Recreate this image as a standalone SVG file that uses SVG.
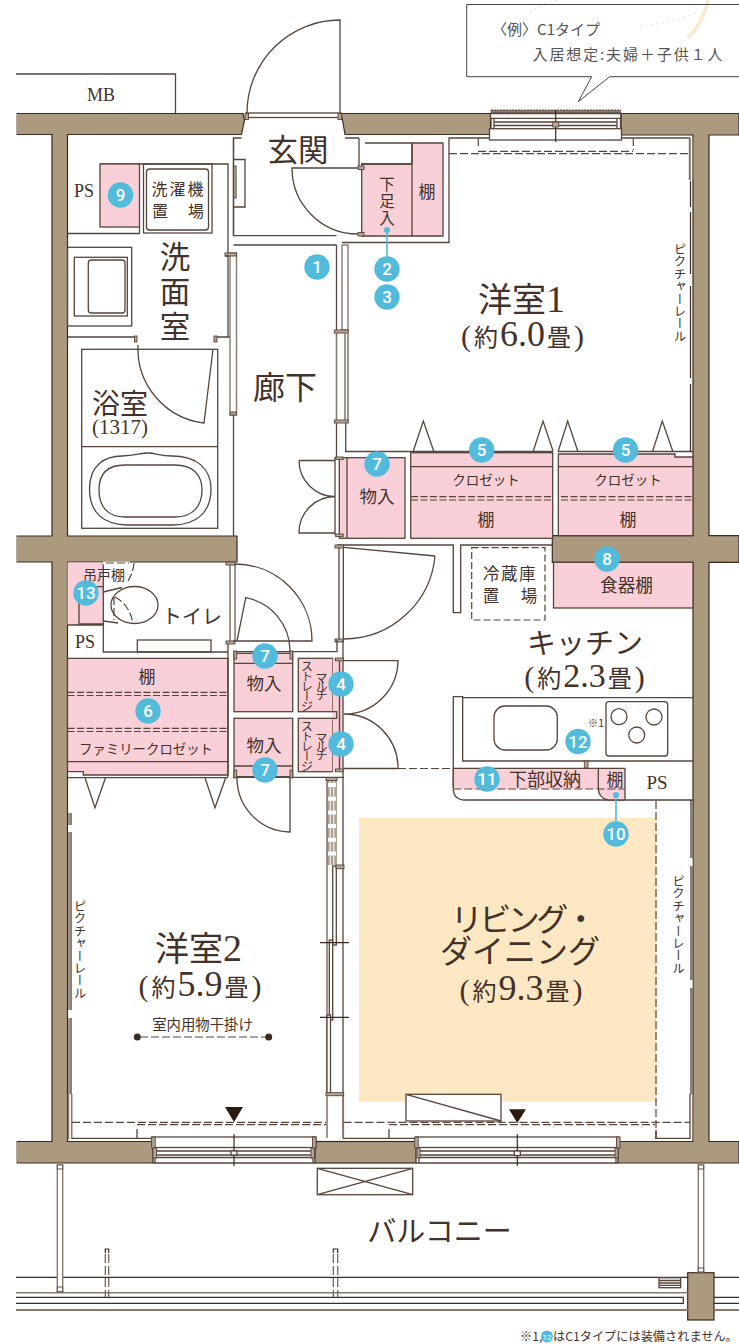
<svg xmlns="http://www.w3.org/2000/svg" width="739" height="1344" viewBox="0 0 739 1344">
<style>
.w{fill:#ab9a7e;stroke:#3b2a20;stroke-width:1.2}
.l{fill:none;stroke:#57443a;stroke-width:1.3}
.lw{fill:#fff;stroke:#57443a;stroke-width:1.3}
.t{fill:none;stroke:#3b2a20;stroke-width:1.2}
.g{fill:none;stroke:#8a7a6e;stroke-width:1.6}
.gf{fill:#b5a899;stroke:#57443a;stroke-width:.9}
.p{fill:#f9cfd8;stroke:#57443a;stroke-width:1.3}
.pn{fill:#f9cfd8;stroke:none}
.d{fill:none;stroke:#57443a;stroke-width:1.2;stroke-dasharray:8 3}
.d2{fill:none;stroke:#57443a;stroke-width:1.2;stroke-dasharray:7 2.5}
.wd{fill:none;stroke:#fff;stroke-width:2.5;stroke-dasharray:4 8}
text{font-family:"Noto Sans CJK JP","Liberation Serif",sans-serif;fill:#43322a;text-anchor:middle}
.s{font-family:"Liberation Serif","Noto Sans CJK JP",serif}
.v{writing-mode:vertical-rl;text-anchor:start}
.b circle{fill:#52bbdb}
.b text{font-family:"Roboto","Liberation Sans",sans-serif;font-size:17px;font-weight:500;fill:#fff}
.c{stroke:#52bbdb;stroke-width:1.6;fill:none}
.cd{fill:#52bbdb}
</style>
<rect width="739" height="1344" fill="#fff"/>
<g id="callout">
<path d="M708 0Q704 22 688 38" fill="none" stroke="#f6ead0" stroke-width="4"/>
<path d="M530 12Q545 2 560 0M640 26Q665 24 698 12" fill="none" stroke="#e3e3de" stroke-width="1.6" stroke-dasharray="1.5 4"/>
<path d="M739 4.5H466.7V76.7H591.7L578.3 101.7L609.7 76.7H739" fill="none" stroke="#444" stroke-width="1"/>
<text x="546" y="35" font-size="15" textLength="108" style="fill:#555">〈例〉C1タイプ</text>
<text x="627.5" y="60" font-size="15" textLength="190" style="fill:#555">入居想定:夫婦＋子供１人</text>
</g>
<g id="ldk-floor"><rect x="359" y="817.7" width="297.5" height="284" fill="#fee8c3"/></g>
<g id="walls">
<path class="w" d="M16 113.5H243L244.5 120L241.5 134.5H67.5V536H237V562H67.5V1141.5H153V1163H16V1141.5H52V562H16V536H52V134.5H16Z"/>
<path class="w" d="M341 113.5H490.5V134.5H345L342.5 120Z"/>
<path class="w" d="M621 113.5H739V135H709V535.7H739V562.3H709V1141.5H739V1163H618V1141.5H693V562.3H552.3V535.7H693V135H621Z"/>
<rect class="w" x="315" y="1141.5" width="101" height="21.5"/>
<rect class="w" x="687.7" y="1272.7" width="26.3" height="47.3"/>
<rect x="0" y="110" width="16.5" height="1060" fill="#fff"/>
</g>
<g id="mb"><path class="l" d="M16 74H175.5V113"/><text class="s" x="101" y="101" font-size="18">MB</text></g>
<g id="entrance">
<path class="l" d="M247 113A93 93 0 0 1 340 20V113"/>
<rect class="lw" x="246" y="113" width="95" height="4.5"/>
<rect class="gf" x="245" y="113.5" width="3.5" height="6"/><rect class="gf" x="338" y="113.5" width="3.5" height="6"/>
<path class="l" d="M241.5 138H233.5V236M345 138H359"/>
<path class="l" d="M233.5 159.5H245V207H233.5"/>
<rect class="gf" x="233.5" y="166" width="2.6" height="32"/>
<path class="l" d="M233.5 235.7H336.5M233.5 245H336.5"/>
<path class="l" d="M359 138V168M358 168H292A66 66 0 0 0 358 234"/>
<text x="298" y="161" font-size="30.5">玄関</text>
</g>
<g id="shoe-storage">
<path class="p" d="M365 143H412V164H361.7V236H443V143H412"/>
<path class="l" d="M412 143V236M361.7 164H412"/>
<rect class="gf" x="358" y="166" width="6" height="3.5"/><rect class="gf" x="358" y="232.5" width="6" height="3.5"/>
<path class="l" d="M342 242.5H449V138H490M621 138H689.5V180"/>
<text class="v" x="387" y="176" font-size="15.5" letter-spacing="1.5">下足入</text>
<text x="427" y="198" font-size="17">棚</text>
</g>
<g id="window-top">
<rect x="491" y="110" width="129.7" height="3" fill="#8a7a6e" stroke="#3b2a20" stroke-width=".8" stroke-dasharray="2 1"/>
<path class="lw" d="M490.5 113.5H620.7V118.3H490.5Z"/>
<path class="l" d="M491 118.3V128.7M494 118.3V128.7M617 118.3V128.7M620.5 118.3V128.7M494 122H617M494 125.5H617"/>
<rect class="lw" x="489.5" y="128.7" width="132" height="11.3"/>
<path class="t" d="M555.7 110V142"/><rect class="gf" x="552.7" y="122" width="6" height="5"/>
<path class="d" d="M478.3 138V148M633.3 138V150M478 151.3H633M449 153.7H690"/>
</g>
<g id="western-room-1">
<path class="g" d="M690 138V180M693 138V180"/>
<path class="t" d="M690.5 181V451" stroke-width="1.3"/>
<path d="M690.5 207V212M690.5 274V286M690.5 378V384" stroke="#fff" stroke-width="2.5"/>
<text class="v" x="680" y="243" font-size="12.4">ピクチャーレール</text>
<text x="478" y="312" font-size="34" style="text-anchor:start">洋室<tspan class="s" font-size="38">1</tspan></text>
<text x="522.5" y="346" font-size="24"><tspan class="s" font-size="30">(</tspan><tspan dx="3">約</tspan><tspan class="s" dx="2" font-size="36">6.0</tspan><tspan dx="2">畳</tspan><tspan class="s" dx="3" font-size="30">)</tspan></text>
</g>
<g id="laundry">
<path class="l" d="M100 164H228V253M233.5 138V236"/>
<rect class="p" x="100" y="164" width="39.5" height="63"/>
<path class="l" d="M67.5 233.5H139.5V227"/>
<rect class="l" x="143.5" y="164" width="68.5" height="69"/>
<rect class="l" x="146.5" y="169" width="62" height="61" rx="3"/>
<text class="s" x="84" y="196.5" font-size="18">PS</text>
<text x="178.5" y="195" font-size="16" letter-spacing="2">洗濯機</text>
<text x="160" y="217" font-size="16">置</text><text x="196" y="217" font-size="16">場</text>
</g>
<g id="washroom">
<rect class="l" x="67.5" y="247.3" width="64.2" height="78.7"/>
<rect class="l" x="74.3" y="257.3" width="53" height="58.7"/>
<rect class="l" x="88.3" y="260" width="36.7" height="53" rx="3"/>
<path class="l" d="M67.5 337H136.7M215 337H230"/>
<rect class="gf" x="134.5" y="336" width="2.5" height="6"/><rect class="gf" x="214" y="336" width="3" height="6"/>
<text class="v" x="175" y="241" font-size="30.5" letter-spacing="4.5">洗面室</text>
</g>
<g id="slide-door-wash">
<rect x="230" y="253" width="6.5" height="162" fill="#fff" stroke="#8a7a6e" stroke-width="1.4"/>
<path class="wd" d="M233.2 256V412"/>
<rect class="gf" x="225" y="253" width="11.5" height="3"/><rect class="gf" x="230" y="412" width="6.5" height="3"/>
<path class="l" d="M225 256H228V337"/>
</g>
<g id="bathroom">
<rect class="l" x="81.7" y="349.3" width="136" height="179"/>
<path class="l" d="M81.7 446.7H217.7M233.5 415V536"/>
<path class="l" d="M213 349L204 423A75 75 0 0 1 138 345"/>
<path class="l" d="M89.5 489C89.5 465 105 456 122 456C135 456 140 453 148 453C156 453 160 456 172 456C196 456 211 468 211 489C211 512 197 525 172 525H128C103 525 89.5 512 89.5 489Z"/>
<path class="l" d="M99 490C99 473 108 465 125 465H175C192 465 202 474 202 490C202 507 192 517 175 517H125C108 517 99 507 99 490Z"/>
<text x="120" y="414" font-size="28">浴室<tspan class="s" x="120" y="434" font-size="21">(1317)</tspan></text>
</g>
<g id="corridor">
<text x="285" y="399" font-size="32">廊下</text>
<path class="l" d="M336.5 245V335M336.5 423V457"/>
<rect x="342" y="245" width="6" height="85" fill="#fff" stroke="#8a7a6e" stroke-width="1.4"/>
<path class="wd" d="M345 248V328"/>
<rect class="gf" x="334.3" y="330" width="14" height="3"/>
<path class="g" d="M336.5 333V422M345 333V422M348 333V422"/>
<rect class="gf" x="334.3" y="420" width="14" height="3"/>
<path class="l" d="M345.7 423V451.5H411"/>
</g>
<g id="storage-corridor">
<rect class="p" x="339.3" y="457.7" width="65.7" height="80.6"/>
<path class="l" d="M347 458V538"/>
<path class="l" d="M335 457V535M299 460.5H335M299 460.5A36 36 0 0 0 335 496.5A36 36 0 0 0 299 533H335"/>
<rect class="gf" x="335.7" y="457" width="7.5" height="2.6"/><rect class="gf" x="335.7" y="534" width="7.5" height="2.6"/>
<text x="377" y="503" font-size="17.5">物入</text>
</g>
<g id="closet-1">
<rect class="p" x="410.7" y="452.7" width="142" height="85.6"/>
<path class="l" d="M411 466.7H552.5M411 451.5H553"/>
<path class="d2" d="M411 496.7H552.5M411 500H552.5"/>
<path class="l" d="M413.3 451L423.3 421L433.7 451M533.3 451L543 421L553 451"/>
<text x="486" y="485" font-size="13.5">クロゼット</text>
<text x="486" y="526" font-size="17">棚</text>
</g>
<g id="closet-2">
<path class="p" d="M558.3 454H675V457H693V535.7H558.3Z"/>
<path class="l" d="M558 451.5H693M558 466.7H693"/>
<path class="d2" d="M561 496.7H693M561 500H693"/>
<path class="l" d="M558.3 451L567.7 421L577.7 451M652.7 451L662.3 421L672.7 451"/>
<text x="628" y="485" font-size="13.5">クロゼット</text>
<text x="628" y="526" font-size="17">棚</text>
</g>
<g id="kitchen">
<path class="l" d="M337 545H453.3V612.7H460.7V545H552.3"/>
<path class="l" d="M435 556L336 546.7M435 556A91.5 91.5 0 0 1 344 639"/>
<path class="l" d="M339 546V640M343.3 546V640"/>
<rect class="gf" x="335" y="545" width="8.5" height="3"/><rect class="gf" x="335" y="639" width="8.5" height="3"/>
<rect x="471.7" y="547.7" width="73.3" height="72.3" fill="none" stroke="#57443a" stroke-width="1.2" stroke-dasharray="7 3"/>
<text x="510" y="580" font-size="16.5" letter-spacing="1.5">冷蔵庫</text>
<text x="491" y="602" font-size="16.5">置</text><text x="529" y="602" font-size="16.5">場</text>
<rect class="p" x="553.5" y="562.3" width="139.5" height="45.7"/>
<text x="626.5" y="592" font-size="17.7">食器棚</text>
<text x="585" y="654" font-size="29">キッチン</text>
<text x="584.5" y="687" font-size="24"><tspan class="s" font-size="30">(</tspan><tspan dx="3">約</tspan><tspan class="s" dx="2" font-size="34">2.3</tspan><tspan dx="2">畳</tspan><tspan class="s" dx="3" font-size="30">)</tspan></text>
<path class="l" d="M693 697.7H462.7V761H693M462.7 697V696.7H453.3V788Q453.3 800 465 800H693"/>
<rect class="l" x="494" y="706" width="63.3" height="44" rx="11"/>
<rect class="l" x="606" y="701.7" width="61.7" height="54.3" rx="3"/>
<circle class="l" cx="619" cy="716.7" r="8"/><circle class="l" cx="654" cy="717" r="8"/><circle class="l" cx="636.7" cy="735" r="8"/>
<text x="596" y="727" font-size="10.5">※1</text>
<rect class="gf" x="584.3" y="761" width="3.7" height="7"/>
<path class="pn" d="M453.3 768.3H625V800H608Q598.3 798 598.3 789H453.3Z"/>
<path class="l" d="M453.3 768.3H625V800M598.3 768.3V788Q598.3 798 608 800H625M453.3 768.3V788"/>
<path class="d" d="M453.3 789H625"/>
<text x="545" y="786" font-size="18">下部収納</text>
<text x="615" y="786" font-size="17">棚</text>
<text class="s" x="657" y="789" font-size="19">PS</text>
</g>
<g id="toilet">
<rect class="pn" x="67.5" y="562.5" width="35.8" height="62.5"/>
<path class="l" d="M103.3 562.5V652H228M67.5 625H103.3M79 586.7H103.3V624H79Z"/>
<path d="M103 563H130M134 563Q133 573 128 581" fill="none" stroke="#fff" stroke-width="3"/>
<path class="d" d="M106 563H129M134 563Q133 573 128 581" stroke-dasharray="5 3"/>
<ellipse class="l" cx="134.5" cy="605" rx="23.5" ry="18.5" stroke-width="1.8"/>
<path class="l" d="M103.3 592L122 587.5M103.3 621L118 623"/>
<path class="d" d="M115 597Q130 605 133 624" stroke-dasharray="5 3"/>
<path class="d" d="M114 597V620" stroke-dasharray="5 3"/>
<rect class="l" x="137.3" y="640" width="73.7" height="12"/>
<text x="104" y="580" font-size="14">吊戸棚</text>
<text class="s" x="85" y="648" font-size="18">PS</text>
<text x="192" y="624" font-size="20">トイレ</text>
<path class="g" d="M230 564V641M235 564V641"/>
<rect class="gf" x="226" y="562" width="9" height="3"/><rect class="gf" x="226" y="641" width="9" height="3"/>
<path class="l" d="M235 564A77 77 0 0 1 312 641H233"/>
</g>
<g id="storage-mid">
<rect class="p" x="234" y="653.3" width="58.7" height="58.4"/>
<path class="l" d="M234 663.3H292.7M233 651.7H337V640"/>
<rect class="gf" x="234" y="651" width="2.7" height="8"/><rect class="gf" x="290" y="651" width="2.7" height="8"/>
<path class="l" d="M237 641L245.7 597.7A54 54 0 0 1 290 651"/>
<text x="264" y="690" font-size="17.5">物入</text>
<rect class="p" x="234" y="718.3" width="58.7" height="58.4"/>
<path class="l" d="M234 766H292.7M233 777.4H344"/>
<rect class="gf" x="234" y="770" width="2.7" height="8"/><rect class="gf" x="290" y="770" width="2.7" height="8"/>
<path class="l" d="M237 778A54 54 0 0 0 290 832V778"/>
<text x="264" y="752" font-size="17.5">物入</text>
</g>
<g id="family-closet">
<path class="p" d="M67.5 658.3H228V775H83.3V771.7H67.5Z"/>
<path class="l" d="M67.5 761.7H228M67.5 777.7H228M228 644V777"/>
<path class="d2" d="M67.5 692.3H228M67.5 695.5H228M67.5 728.3H228M67.5 731.5H228"/>
<path class="l" d="M85 777.7L95 807.7L105.5 777.7M205 777.7L215 807.7L225.7 777.7"/>
<text x="147" y="683" font-size="17">棚</text>
<text x="146" y="754" font-size="13.4">ファミリークロゼット</text>
</g>
<g id="multi-storage">
<rect class="p" x="298.3" y="658.3" width="34.4" height="53.4"/>
<rect class="p" x="298.3" y="718.3" width="34.4" height="53.4"/>
<rect class="pn" x="332.7" y="658.3" width="10.3" height="113.4"/>
<path class="l" d="M332.7 711.7H336.7V718.3H332.7M343 640V1138M339.5 658V772"/>
<text class="v" x="307" y="660" font-size="12" letter-spacing="-2">ストレージ</text><text class="v" x="321.5" y="672" font-size="12" letter-spacing="-3.5">マルチ</text>
<text class="v" x="307" y="720" font-size="12" letter-spacing="-2">ストレージ</text><text class="v" x="321.5" y="732" font-size="12" letter-spacing="-3.5">マルチ</text>
<rect class="gf" x="335.5" y="658" width="8" height="2.8"/><rect class="gf" x="335.5" y="769" width="8" height="2.8"/>
<path class="l" d="M344 660.7H398A54 54 0 0 1 344 714A54 54 0 0 1 398 768.5H344"/>
<path class="d" d="M398 768.5H453"/>
</g>
<g id="slide-door-ld">
<rect x="327" y="778" width="10" height="87" fill="#ada195"/>
<path d="M330.3 778V865M333.7 778V865" stroke="#f2eeea" stroke-width="1.2" fill="none"/>
<path d="M332 783V860" stroke="#fff" stroke-width="8" stroke-dasharray="4 9.7" fill="none"/>
<path class="g" d="M327 778V1092"/>
<rect class="gf" x="326" y="777.5" width="11" height="3"/>
<rect class="lw" x="332.7" y="866" width="3.6" height="79"/>
<rect class="lw" x="329.3" y="940" width="3.4" height="80"/>
<rect class="lw" x="327" y="1015" width="3.5" height="78"/>
<rect class="gf" x="336" y="865" width="8" height="3.7"/>
<path class="t" d="M320 942.7H349M320 1017.3H349"/>
<rect class="gf" x="326" y="1092.7" width="17.7" height="3"/>
<path class="g" d="M327 1096V1138M343.3 1096V1138"/>
</g>
<g id="western-room-2">
<path class="g" d="M69 813V1094"/>
<path class="t" d="M71 813V1094"/>
<path d="M70 825V832M70 1010V1018" stroke="#fff" stroke-width="4"/>
<path class="g" d="M68.5 1094V1139M71.7 1094V1139"/>
<path class="l" d="M71.7 1138.3H152M137 1129V1138"/>
<path class="d" d="M72 1122.3H326M137 1124.7H326"/>
<path d="M225 1107H243L234 1122Z" fill="#2c1a0e"/>
<text class="v" x="80" y="900" font-size="12.4">ピクチャーレール</text>
<text x="155" y="961" font-size="34" style="text-anchor:start">洋室<tspan class="s" font-size="38">2</tspan></text>
<text x="200" y="996" font-size="24"><tspan class="s" font-size="30">(</tspan><tspan dx="3">約</tspan><tspan class="s" dx="2" font-size="36">5.9</tspan><tspan dx="2">畳</tspan><tspan class="s" dx="3" font-size="30">)</tspan></text>
<text x="202.5" y="1030" font-size="14.4">室内用物干掛け</text>
<path class="d" d="M140 1037H266" stroke-dasharray="7 4"/>
<circle cx="137.3" cy="1037" r="3.5" fill="#3b2a20"/><circle cx="268.7" cy="1037" r="3.5" fill="#3b2a20"/>
</g>
<g id="window-room-2">
<rect class="lw" x="152" y="1137" width="164" height="10.5"/>
<path class="l" d="M155 1147.5V1163M313 1147.5V1163M156 1151H313M156 1155H313M155 1157.5H314M153 1163H315"/>
<rect class="gf" x="151.7" y="1137" width="3.5" height="11"/><rect class="gf" x="153" y="1148" width="3.5" height="10"/>
<rect class="gf" x="312.5" y="1137" width="3.5" height="11"/><rect class="gf" x="311" y="1148" width="3.5" height="10"/>
<path class="t" d="M234 1134V1166"/><rect class="lw" x="231" y="1151" width="6" height="4"/>
</g>
<g id="living-dining">
<path class="l" d="M343 1138.3H416M655 1138.3H690V1094"/>
<path class="g" d="M693 1094V1141"/>
<path class="t" d="M691 800V1094"/>
<path d="M691 858V866M691 980V988" stroke="#fff" stroke-width="3"/>
<path class="d" d="M656 801V1138" stroke="#6d5a4e" stroke-dasharray="9 4"/>
<path class="d" d="M343.5 1122.3H690M389 1124.7H655"/>
<path class="l" d="M389 1129V1138M656 1130V1138"/>
<rect class="lw" x="406" y="1094.3" width="95" height="26.7"/><path class="l" d="M406 1094.3L501 1121"/>
<path d="M509 1109.3H526L517.3 1123Z" fill="#2c1a0e"/>
<text class="v" x="678.5" y="875" font-size="12.4">ピクチャーレール</text>
<text x="522" y="931" font-size="32" letter-spacing="-3.5">リビング・<tspan x="520" y="963" letter-spacing="0">ダイニング</tspan></text>
<text x="521" y="1000" font-size="24"><tspan class="s" font-size="30">(</tspan><tspan dx="3">約</tspan><tspan class="s" dx="2" font-size="36">9.3</tspan><tspan dx="2">畳</tspan><tspan class="s" dx="3" font-size="30">)</tspan></text>
</g>
<g id="window-ld">
<rect class="lw" x="415.7" y="1137" width="203.3" height="10.5"/>
<path class="l" d="M419 1147.5V1163M616 1147.5V1163M420 1151H616M420 1155H616M419 1157.5H617M416 1163H618"/>
<rect class="gf" x="414.7" y="1137" width="3.5" height="11"/><rect class="gf" x="417" y="1148" width="3" height="10"/>
<rect class="gf" x="616.5" y="1137" width="3.5" height="11"/><rect class="gf" x="615" y="1148" width="3" height="10"/>
<path class="t" d="M517.3 1134V1166"/><rect class="lw" x="514.3" y="1151" width="6" height="4.5"/>
</g>
<g id="balcony">
<rect class="l" x="317.3" y="1168.3" width="95.4" height="26.4"/><path class="l" d="M317.3 1168.3L412.7 1194.7M317.3 1194.7L412.7 1168.3"/>
<path class="t" d="M16 1277.3H688M714 1277.3H739M16 1297.3H683.3V1303.3H16M714 1297.3H739M714 1303.3H739"/>
<path class="g" d="M16 1292.7H688"/>
<path d="M16 1310H688M714 1310H739" stroke="#8a7a6e" stroke-width="2" fill="none"/>
<rect x="57.3" y="1165" width="5.4" height="126.7" fill="#fff" stroke="#8a7a6e" stroke-width="1.4"/>
<rect class="gf" x="57.3" y="1165" width="5.4" height="4" style="fill:#fff"/><rect class="gf" x="57.3" y="1287" width="5.4" height="4.7" style="fill:#fff"/>
<rect x="698.3" y="1165" width="5.4" height="107" fill="#fff" stroke="#8a7a6e" stroke-width="1.4"/>
<rect class="gf" x="698.3" y="1165" width="5.4" height="4" style="fill:#fff"/><rect class="gf" x="698.3" y="1268" width="5.4" height="4" style="fill:#fff"/>
<path d="M105.3 1254V1297M108.7 1254V1297M333.3 1254V1297M337.7 1254V1297" fill="none" stroke="#6d5a4e" stroke-width="1.2" stroke-dasharray="9 3"/>
<path class="t" d="M105.3 1253V1249H108.7V1253M333.3 1253V1249H337.7V1253" stroke-width=".9"/>
<rect class="lw" x="659" y="1277.7" width="21.7" height="10"/><path class="l" d="M659 1280.5H680.7M659 1283H680.7M659 1285.4H680.7" stroke-width=".9"/>
<text x="439.5" y="1242" font-size="29">バルコニー</text>
</g>
<g id="footnote">
<text x="520" y="1341" font-size="12.2" style="text-anchor:start">※1,</text>
<circle cx="547" cy="1336.5" r="6" fill="#52bbdb"/>
<text x="547" y="1339.5" font-size="8" style="fill:#fff;font-family:Roboto,sans-serif">12</text>
<text x="553" y="1341" font-size="12.2" style="text-anchor:start">はC1タイプには装備されません。</text>
</g>
<g id="leaders">
<path class="c" d="M387 230V257M616 795V822"/>
<circle class="cd" cx="387" cy="230" r="3"/><circle class="cd" cx="616" cy="795" r="3"/>
</g>
<g id="badges" class="b">
<g id="b1"><circle cx="317" cy="267" r="12.7"/><text x="317" y="273">1</text></g>
<g id="b2"><circle cx="387" cy="269" r="12.7"/><text x="387" y="275">2</text></g>
<g id="b3"><circle cx="387" cy="297" r="12.7"/><text x="387" y="303">3</text></g>
<g id="b4a"><circle cx="341" cy="684" r="12.7"/><text x="341" y="690">4</text></g>
<g id="b4b"><circle cx="341" cy="744" r="12.7"/><text x="341" y="750">4</text></g>
<g id="b5a"><circle cx="481.7" cy="450" r="12.7"/><text x="481.7" y="456">5</text></g>
<g id="b5b"><circle cx="625.5" cy="450" r="12.7"/><text x="625.5" y="456">5</text></g>
<g id="b6"><circle cx="148" cy="711" r="12.7"/><text x="148" y="717">6</text></g>
<g id="b7a"><circle cx="377" cy="464" r="12.7"/><text x="377" y="470">7</text></g>
<g id="b7b"><circle cx="265" cy="656" r="12.7"/><text x="265" y="662">7</text></g>
<g id="b7c"><circle cx="265" cy="770" r="12.7"/><text x="265" y="776">7</text></g>
<g id="b8"><circle cx="607" cy="559" r="12.7"/><text x="607" y="565">8</text></g>
<g id="b9"><circle cx="120.5" cy="195" r="12.7"/><text x="120.5" y="201">9</text></g>
<g id="b10"><circle cx="616" cy="834" r="12.7"/><text x="616" y="840">10</text></g>
<g id="b11"><circle cx="487" cy="779" r="12.7"/><text x="487" y="785">11</text></g>
<g id="b12"><circle cx="578" cy="741.5" r="12.7"/><text x="578" y="747.5">12</text></g>
<g id="b13"><circle cx="86" cy="593" r="12.7"/><text x="86" y="599">13</text></g>
</g>
</svg>
